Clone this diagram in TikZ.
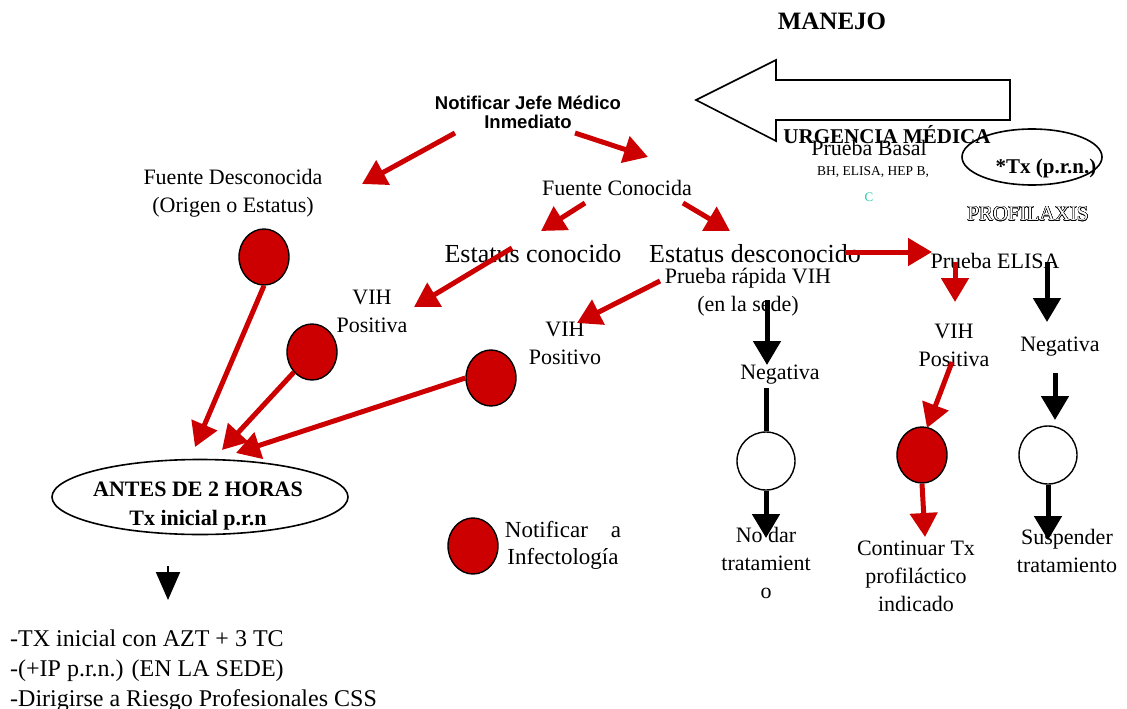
\documentclass[tikz,border=0pt]{standalone}
\usepackage{fontspec}
\setmainfont{Liberation Serif}
\newfontfamily\sansfnt{Liberation Sans}
\usepackage{contour}
\contourlength{0.45pt}
\usetikzlibrary{arrows.meta}
\usetikzlibrary{shapes.geometric}
\definecolor{alarm}{HTML}{CC0000}
\definecolor{basalc}{HTML}{22CCAA}

\begin{document}
\begin{tikzpicture}[x=1pt, y=-1pt,
  txt/.style={inner sep=0pt, align=center, font=\fontsize{22}{28}\selectfont},
  bigtxt/.style={inner sep=0pt, align=center, font=\fontsize{26}{30}\selectfont},
  dot/.style={ellipse, draw, line width=1.4pt, fill=alarm, inner sep=0pt, minimum width=50pt, minimum height=56pt},
  hole/.style={circle, draw, line width=1.4pt, fill=white, inner sep=0pt, minimum size=58pt},
  redarr/.style={draw=alarm, line width=5pt, -{Triangle[length=24pt, width=27pt]}},
  blkarr/.style={draw=black, line width=5pt, -{Triangle[length=24pt, width=27pt]}}]
  \useasboundingbox (0,0) rectangle (1127,709);

  % big hollow arrow
  \draw[line width=1.6pt, fill=white] (1010,80) -- (776,80) -- (776,60) -- (696,100)
    -- (776,141) -- (776,120) -- (1010,120) -- cycle;

  % titles
  \node[inner sep=0pt, font=\fontsize{25}{30}\selectfont\bfseries] (manejo) at (832,21) {MANEJO};
  \node[inner sep=0pt, align=center, font=\fontsize{18.5}{19}\selectfont\sansfnt\bfseries] (jefe) at (528,112) {Notificar Jefe Médico\\Inmediato};
  \node[inner sep=0pt, font=\fontsize{21}{24}\selectfont\bfseries] (urg) at (887,135) {URGENCIA MÉDICA};
  \node[txt] (basal) at (869,148) {Prueba Basal};
  \node[inner sep=0pt, font=\fontsize{13.5}{16}\selectfont] (bh) at (873,172) {BH, ELISA, HEP B,};
  \node[inner sep=0pt, text=basalc, font=\fontsize{13}{16}\selectfont] (cbasal) at (869,197) {C};
  \node[ellipse, draw, line width=1.6pt, minimum width=140pt, minimum height=56pt] (txell) at (1032,157) {};
  \node[inner sep=0pt, font=\fontsize{21}{24}\selectfont\bfseries] (txprn) at (1046,168) {*Tx (p.r.n.)};
  \node[inner sep=0pt, font=\fontsize{21}{24}\selectfont] (profi) at (1028,214) {\contour{black}{\textcolor{white}{PROFILAXIS}}};

  % left branch
  \node[txt] (fdes) at (233,193) {Fuente Desconocida\\(Origen o Estatus)};
  \node[txt] (fcon) at (617,188) {Fuente Conocida};
  \node[bigtxt] (econ) at (533,254) {Estatus conocido};
  \node[bigtxt] (edes) at (755,254) {Estatus desconocido};
  \node[txt] (prap) at (748,292) {Prueba rápida VIH\\(en la sede)};
  \node[txt] (vihpa) at (372,311) {VIH\\Positiva};
  \node[txt] (vihpb) at (565,343) {VIH\\Positivo};

  \node[dot] (da) at (264,257) {};
  \node[dot] (db) at (312,352) {};
  \node[dot] (dc) at (491,378) {};

  \node[ellipse, draw, line width=1.6pt, fill=white, minimum width=296pt, minimum height=75pt] (antes) at (200,497) {};
  \node[inner sep=0pt, align=center, font=\fontsize{22}{29}\selectfont\bfseries] (antestxt) at (198,506) {ANTES DE 2 HORAS\\Tx inicial p.r.n};
  \node[inner sep=0pt, anchor=west, align=left, font=\fontsize{24}{30}\selectfont] (lista) at (10,671)
    {-TX inicial con AZT + 3 TC\\-(+IP p.r.n.) (EN LA SEDE)\\-Dirigirse a Riesgo Profesionales CSS};

  % legend
  \node[dot] (dleg) at (473,546) {};
  \node[txt, font=\fontsize{23}{27}\selectfont] (leg) at (563,545) {Notificar\quad a\\Infectología};

  % right branch
  \node[txt] (nega) at (780,375) {Negativa};
  \node[hole] (wa) at (766,461) {};
  \node[txt] (nodar) at (766,563) {No dar\\tratamient\\o};
  \node[txt] (elisa) at (995,261) {Prueba ELISA};
  \node[txt] (vihpc) at (954,345) {VIH\\Positiva};
  \node[txt] (negb) at (1060,347) {Negativa};
  \node[dot] (dd) at (922,455) {};
  \node[hole] (wb) at (1048,455) {};
  \node[txt] (cont) at (916,576) {Continuar Tx\\profiláctico\\indicado};
  \node[txt] (susp) at (1067,551) {Suspender\\tratamiento};

  % arrow ends
  \coordinate (jl) at (455,133);
  \coordinate (jr) at (575,133);
  \coordinate (fdtip) at (362,184);
  \coordinate (fctip) at (648,157);
  \coordinate (fcl) at (585,203);
  \coordinate (fcr) at (683,203);
  \coordinate (ectip) at (541,231);
  \coordinate (edtip) at (730,231);
  \coordinate (ecl) at (512,248);
  \coordinate (vatip) at (414,307);
  \coordinate (prl) at (660,281);
  \coordinate (vbtip) at (577,323);
  \coordinate (ta) at (195,447);
  \coordinate (tb) at (222,450);
  \coordinate (tc) at (236,453);
  \coordinate (edr) at (845,252);
  \coordinate (eltip) at (932,252);
  \coordinate (ell) at (955,262);
  \coordinate (vctip) at (955,302);
  \coordinate (vcb) at (952,362);
  \coordinate (ddtip) at (927,428);
  \coordinate (cttip) at (925,537);
  \coordinate (prb) at (767,300);
  \coordinate (natip) at (767,365);
  \coordinate (nab) at (766,388);
  \coordinate (ndtip) at (766,538);
  \coordinate (elr) at (1047,262);
  \coordinate (nbtip) at (1047,322);
  \coordinate (nbb) at (1055,373);
  \coordinate (wbtip) at (1055,420);
  \coordinate (sptip) at (1048,540);
  \coordinate (an) at (168,566);
  \coordinate (antip) at (168,600);

  % red arrows
  \draw[redarr] (jl) -- (fdtip);
  \draw[redarr] (jr) -- (fctip);
  \draw[redarr] (fcl) -- (ectip);
  \draw[redarr] (fcr) -- (edtip);
  \draw[redarr] (ecl) -- (vatip);
  \draw[redarr] (prl) -- (vbtip);
  \draw[redarr] (da.south) -- (ta);
  \draw[redarr] (db.south west) -- (tb);
  \draw[redarr] (dc.west) -- (tc);
  \draw[redarr] (edr) -- (eltip);
  \draw[redarr] (ell) -- (vctip);
  \draw[redarr] (vcb) -- (ddtip);
  \draw[redarr] (dd.south) -- (cttip);

  % black arrows
  \draw[blkarr] (prb) -- (natip);
  \draw[line width=5pt] (nab) -- (wa.north);
  \draw[blkarr] (wa.south) -- (ndtip);
  \draw[blkarr] (elr) -- (nbtip);
  \draw[blkarr] (nbb) -- (wbtip);
  \draw[blkarr] (wb.south) -- (sptip);
  \draw[line width=2pt, -{Triangle[length=28pt, width=24pt]}] (an) -- (antip);
\end{tikzpicture}
\end{document}
